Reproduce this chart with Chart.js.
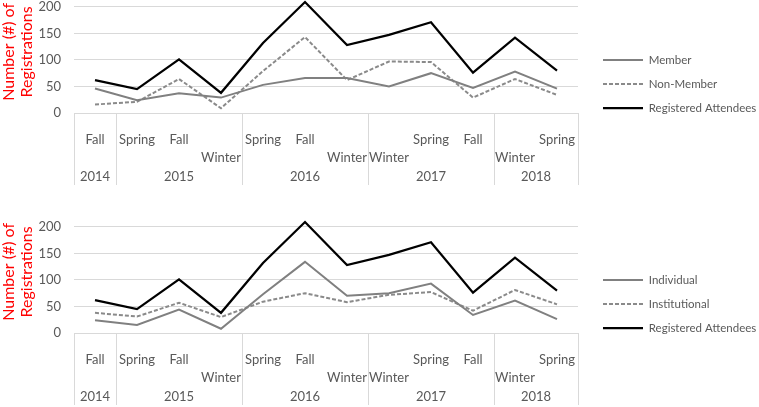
<!DOCTYPE html>
<html>
<head>
<meta charset="utf-8">
<script src="https://cdn.jsdelivr.net/npm/chart.js@4"></script>
<style>
body { margin: 0; width: 759px; height: 407px; overflow: hidden; background: #fff; position: relative; }
.box { position: absolute; left: 0; width: 759px; height: 220px; }
</style>
</head>
<body>
<div class="box" style="top:-14px"><canvas id="topChart"></canvas></div>
<div class="box" style="top:206px"><canvas id="bottomChart"></canvas></div>
<script>
var seasons = ['Fall', 'Spring', 'Fall', 'Winter', 'Spring', 'Fall', 'Winter', 'Winter', 'Spring', 'Fall', 'Winter', 'Spring'];
var yearOf = ['2014', '2015', '2015', '2015', '2016', '2016', '2016', '2017', '2017', '2017', '2018', '2018'];
var titleLines = ['Number (#) of', 'Registrations'];

var attendees = [62, 45, 101, 38, 132, 209, 128, 147, 171, 76, 142, 80];
var member = [46, 24, 37, 29, 53, 66, 66, 50, 75, 47, 78, 46];
var nonMember = [16, 21, 64, 9, 79, 143, 62, 97, 96, 29, 64, 34];
var individual = [24, 15, 44, 8, 73, 134, 70, 75, 93, 34, 61, 26];
var institutional = [38, 31, 57, 30, 59, 75, 58, 72, 77, 42, 81, 54];

var textGray = '#595959';
var lineGray = '#d9d9d9';
var font = 'Lato';

// year row + separators below the season labels, and the red axis title
var yearAxis = {
    id: 'yearAxis',
    afterDraw: function (chart) {
        var x = chart.scales.x, ctx = chart.ctx, area = chart.chartArea;
        var half = (x.getPixelForValue(1) - x.getPixelForValue(0)) / 2;
        var lineBottom = x.bottom + 23;
        ctx.save();
        ctx.strokeStyle = lineGray;
        ctx.lineWidth = 1;
        ctx.fillStyle = textGray;
        ctx.font = '13px ' + font;
        ctx.textAlign = 'center';
        ctx.textBaseline = 'middle';
        var start = 0;
        for (var i = 1; i <= yearOf.length; i++) {
            if (i < yearOf.length && yearOf[i] === yearOf[start]) continue;
            var left = x.getPixelForValue(start) - half;
            var right = x.getPixelForValue(i - 1) + half;
            [left, right].forEach(function (px) {
                ctx.beginPath();
                ctx.moveTo(Math.round(px) + 0.5, x.top);
                ctx.lineTo(Math.round(px) + 0.5, lineBottom);
                ctx.stroke();
            });
            ctx.fillText(yearOf[start], (left + right) / 2, x.bottom + 15);
            start = i;
        }
        ctx.fillStyle = '#ff0000';
        ctx.font = '16px ' + font;
        ctx.translate(9, (area.top + area.bottom) / 2 - 8);
        ctx.rotate(-Math.PI / 2);
        ctx.fillText(titleLines[0], 0, 0);
        ctx.fillText(titleLines[1], 0, 17.6);
        ctx.restore();
    }
};

function legendItems(chart) {
    var items = Chart.defaults.plugins.legend.labels.generateLabels(chart);
    items.forEach(function (it) {
        var ds = chart.data.datasets[it.datasetIndex];
        it.lineDash = ds.borderDash || [];
        it.lineWidth = ds.borderWidth;
        it.strokeStyle = ds.borderColor;
    });
    return items;
}

function makeChart(id, first, firstLabel, second, secondLabel) {
    return new Chart(document.getElementById(id), {
        type: 'line',
        data: {
            labels: seasons.map(function (s) { return s === 'Winter' ? ['', s] : s; }),
            datasets: [
                { label: firstLabel, data: first, borderColor: '#808080', borderWidth: 2, pointRadius: 0, clip: false },
                { label: secondLabel, data: second, borderColor: '#8a8a8a', borderWidth: 2, borderDash: [4, 2], pointRadius: 0, clip: false },
                { label: 'Registered Attendees', data: attendees, borderColor: '#000000', borderWidth: 2.25, pointRadius: 0, clip: false }
            ]
        },
        options: {
            responsive: false,
            animation: false,
            layout: { padding: { top: 20, bottom: 44, left: 0, right: 0 } },
            scales: {
                x: {
                    offset: true,
                    grid: { display: false },
                    border: { display: false },
                    ticks: { autoSkip: false, maxRotation: 0, padding: 10, color: textGray, font: { family: font, size: 13, lineHeight: 1.4 } },
                    afterFit: function (s) { s.height = 49; }
                },
                y: {
                    min: 0, max: 200,
                    grid: { color: lineGray, drawTicks: false },
                    border: { display: false },
                    ticks: { stepSize: 50, padding: 13, color: textGray, font: { family: font, size: 13 } },
                    afterFit: function (s) { s.width = 74; }
                },
                pad: {
                    type: 'linear', position: 'right',
                    grid: { display: false }, border: { display: false }, ticks: { display: false },
                    afterFit: function (s) { s.width = 12.5; }
                }
            },
            plugins: {
                legend: {
                    position: 'right',
                    align: 'center',
                    maxWidth: 168.5,
                    labels: {
                        usePointStyle: true,
                        pointStyle: 'line',
                        pointStyleWidth: 40,
                        padding: 12.5,
                        color: textGray,
                        font: { family: font, size: 11.5 },
                        generateLabels: legendItems
                    }
                },
                tooltip: { enabled: false }
            }
        },
        plugins: [yearAxis]
    });
}

document.querySelectorAll('canvas').forEach(function (c) { c.width = 759; c.height = 220; });
makeChart('topChart', member, 'Member', nonMember, 'Non-Member');
makeChart('bottomChart', individual, 'Individual', institutional, 'Institutional');
</script>
</body>
</html>
